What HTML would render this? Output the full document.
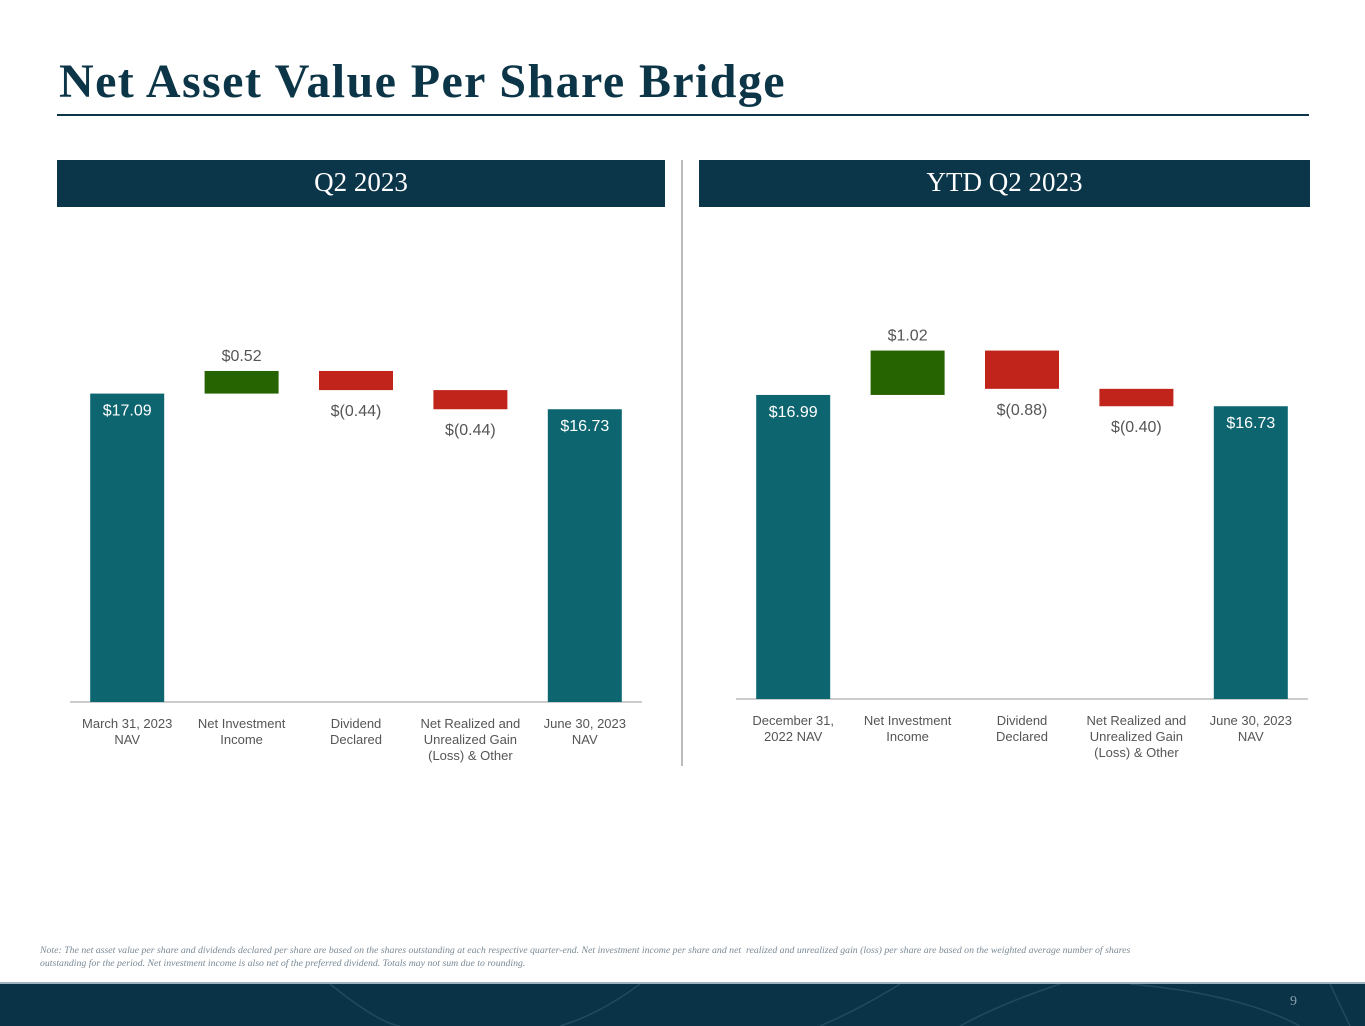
<!DOCTYPE html>
<html><head><meta charset="utf-8">
<style>
body{margin:0;width:1365px;height:1024px;position:relative;background:#fff;overflow:hidden;font-family:"Liberation Sans",sans-serif}
.title{position:absolute;left:59px;top:54px;font-family:"Liberation Serif",serif;font-weight:bold;font-size:48px;color:#0c3547;letter-spacing:1.4px}
.rule{position:absolute;left:57px;top:114px;width:1252px;height:2px;background:#0c3547}
.hdr{position:absolute;top:160px;height:47px;background:#0b3549;color:#fff;font-family:"Liberation Serif",serif;font-size:27px;text-align:center;line-height:45px}
.div{position:absolute;left:681px;top:160px;width:2px;height:606px;background:#bbb}
.note{position:absolute;left:40px;top:944px;width:1115px;font-family:"Liberation Serif",serif;font-style:italic;font-size:9.8px;color:#7a8a96;line-height:13px}
.footer{position:absolute;left:0;top:982px;width:1365px;height:42px;background:#0a3347;border-top:2px solid #9fb3c0}
.pn{position:absolute;right:68px;top:10px;color:#8aa0ae;font-family:"Liberation Serif",serif;font-size:14px}
svg{position:absolute;left:0;top:0}
</style></head><body>
<div class="title">Net Asset Value Per Share Bridge</div>
<div class="rule"></div>
<div class="hdr" style="left:57px;width:608px">Q2 2023</div>
<div class="hdr" style="left:699px;width:611px">YTD Q2 2023</div>
<div class="div"></div>
<svg width="1365" height="1024" id="chart"></svg>
<div class="note">Note: The net asset value per share and dividends declared per share are based on the shares outstanding at each respective quarter-end. Net investment income per share and net &nbsp;realized and unrealized gain (loss) per share are based on the weighted average number of shares outstanding for the period. Net investment income is also net of the preferred dividend. Totals may not sum due to rounding.</div>
<div class="footer">
<svg width="1365" height="42" style="position:absolute;left:0;top:0"><g stroke="#2c5468" fill="none" stroke-width="1.5" opacity="0.7"><path d="M330 0 Q380 40 400 42"/><path d="M640 0 Q600 30 560 42"/><path d="M900 0 Q860 25 820 42"/><path d="M1060 0 Q1000 20 960 42"/><path d="M1130 0 Q1240 10 1300 42"/><path d="M1330 0 L1350 42"/></g></svg>
<div class="pn">9</div></div>
<script>
const catsQ2=["March 31, 2023|NAV","Net Investment|Income","Dividend|Declared","Net Realized and|Unrealized Gain|(Loss) & Other","June 30, 2023|NAV"];
const valsQ2=[17.09,0.52,-0.44,-0.44,16.73];
const labelsQ2=["$17.09","$0.52","$(0.44)","$(0.44)","$16.73"];
const catsYTD=["December 31,|2022 NAV","Net Investment|Income","Dividend|Declared","Net Realized and|Unrealized Gain|(Loss) & Other","June 30, 2023|NAV"];
const valsYTD=[16.99,1.02,-0.88,-0.40,16.73];
const labelsYTD=["$16.99","$1.02","$(0.88)","$(0.40)","$16.73"];
const svg=document.getElementById('chart');
const NS='http://www.w3.org/2000/svg';
function mk(t,a){const e=document.createElementNS(NS,t);for(const k in a)e.setAttribute(k,a[k]);svg.appendChild(e);return e;}
function draw(cats,vals,labels,x0,x1,baseY,name){
  const base=10.0,ppu=43.5;
  const y=v=>baseY-(v-base)*ppu;
  const step=(x1-x0)/cats.length;
  const ax=mk('line',{x1:x0,x2:x1,y1:baseY,y2:baseY,stroke:'#bbb','stroke-width':1.5});
  
  
  let run=0;
  vals.forEach((v,i)=>{
    const cx=x0+step*(i+0.5),w=74;
    let top,bot,col,total=(i===0||i===vals.length-1);
    if(total){top=y(v);bot=baseY;col='#0d6570';run=v;}
    else{const nr=run+v;top=y(Math.max(run,nr));bot=y(Math.min(run,nr));col=v>=0?'#266301':'#c0241b';run=nr;}
    const r=mk('rect',{x:cx-w/2,y:top,width:w,height:bot-top,fill:col});
    
    
    let ly,fill='#555';
    if(total){ly=top+22;fill='#fff';}else if(v>=0){ly=top-10;}else{ly=bot+26;}
    const t=mk('text',{x:cx,y:ly,'text-anchor':'middle','font-size':16,fill:fill,'font-family':'Liberation Sans,sans-serif'});
    t.textContent=labels[i];
    
    
    cats[i].split('|').forEach((ln,j)=>{
      const c=mk('text',{x:cx,y:baseY+26+j*16,'text-anchor':'middle','font-size':13,fill:'#555','font-family':'Liberation Sans,sans-serif'});
      c.textContent=ln;
      
      
    });
  });
}
draw(catsQ2,valsQ2,labelsQ2,70,642,702,'q2');
draw(catsYTD,valsYTD,labelsYTD,736,1308,699,'ytd');
</script>
</body></html>
